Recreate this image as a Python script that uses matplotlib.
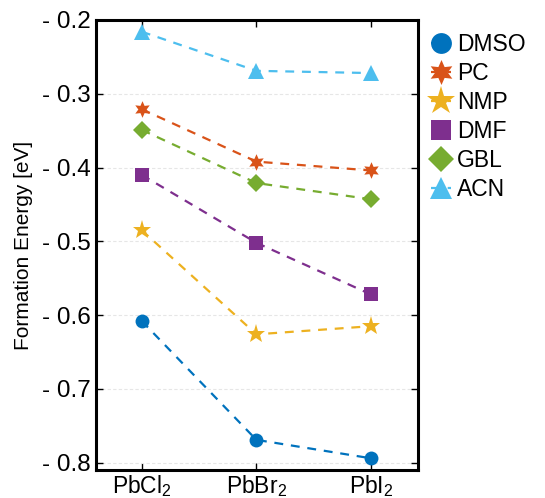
import matplotlib
matplotlib.use('Agg')
import matplotlib.pyplot as plt

plt.rcParams['font.family'] = ['Liberation Sans', 'DejaVu Sans']
plt.rcParams['mathtext.fontset'] = 'custom'
plt.rcParams['mathtext.rm'] = 'Liberation Sans'
plt.rcParams['mathtext.it'] = 'Liberation Sans'
plt.rcParams['mathtext.default'] = 'regular'

# data
compounds = ['PbCl$_2$', 'PbBr$_2$', 'PbI$_2$']
solvents = ['DMSO', 'PC', 'NMP', 'DMF', 'GBL', 'ACN']
dmso = [-0.608, -0.769, -0.794]
pc = [-0.321, -0.392, -0.404]
nmp = [-0.485, -0.626, -0.615]
dmf = [-0.410, -0.502, -0.572]
gbl = [-0.349, -0.421, -0.443]
acn = [-0.216, -0.269, -0.272]
yticks = [-0.8, -0.7, -0.6, -0.5, -0.4, -0.3, -0.2]
ytick_labels = ['- 0.8', '- 0.7', '- 0.6', '- 0.5', '- 0.4', '- 0.3', '- 0.2']

series = [dmso, pc, nmp, dmf, gbl, acn]
colors = ['#0072BD', '#D95319', '#EDB120', '#7E2F8E', '#77AC30', '#4DBEEE']
markers = ['o', (6, 1, 0), '*', 's', 'D', '^']
sizes = [10, 12, 14, 10, 9, 11]

fig = plt.figure(figsize=(5.45, 4.98), dpi=100)
ax = fig.add_axes([0.176, 0.056, 0.591, 0.904])

x = [1, 2, 3]
for name, vals, c, m, s in zip(solvents, series, colors, markers, sizes):
    ax.plot(x, vals, linestyle=(0, (4, 3.5)), lw=1.6, color=c, marker=m,
            markersize=s, markeredgewidth=0, label=name)

ax.set_xlim(0.6, 3.41)
ax.set_ylim(-0.81, -0.2)
ax.set_xticks(x)
ax.set_xticklabels(compounds, fontsize=16.5)
ax.set_yticks(yticks)
ax.set_yticklabels(ytick_labels, fontsize=17.5)
ax.set_ylabel('Formation Energy [eV]', fontsize=15, labelpad=6)
ax.yaxis.grid(True, color='#e6e6e6', linestyle=(0, (3, 2)), lw=0.8)
ax.set_axisbelow(True)

ax.tick_params(direction='in', top=True, right=True, length=5, width=1)
ax.tick_params(axis='x', pad=2)
ax.tick_params(axis='y', pad=4)
for sp in ax.spines.values():
    sp.set_linewidth(2.2)

handles, labels = ax.get_legend_handles_labels()
leg = ax.legend(handles, labels, loc='upper left', bbox_to_anchor=(1.0, 1.0),
                frameon=False, fontsize=16.5, markerscale=1.5, handlelength=0.9,
                handletextpad=0.25, labelspacing=0.27, borderaxespad=0.15)

fig.savefig('out.png', dpi=100)
